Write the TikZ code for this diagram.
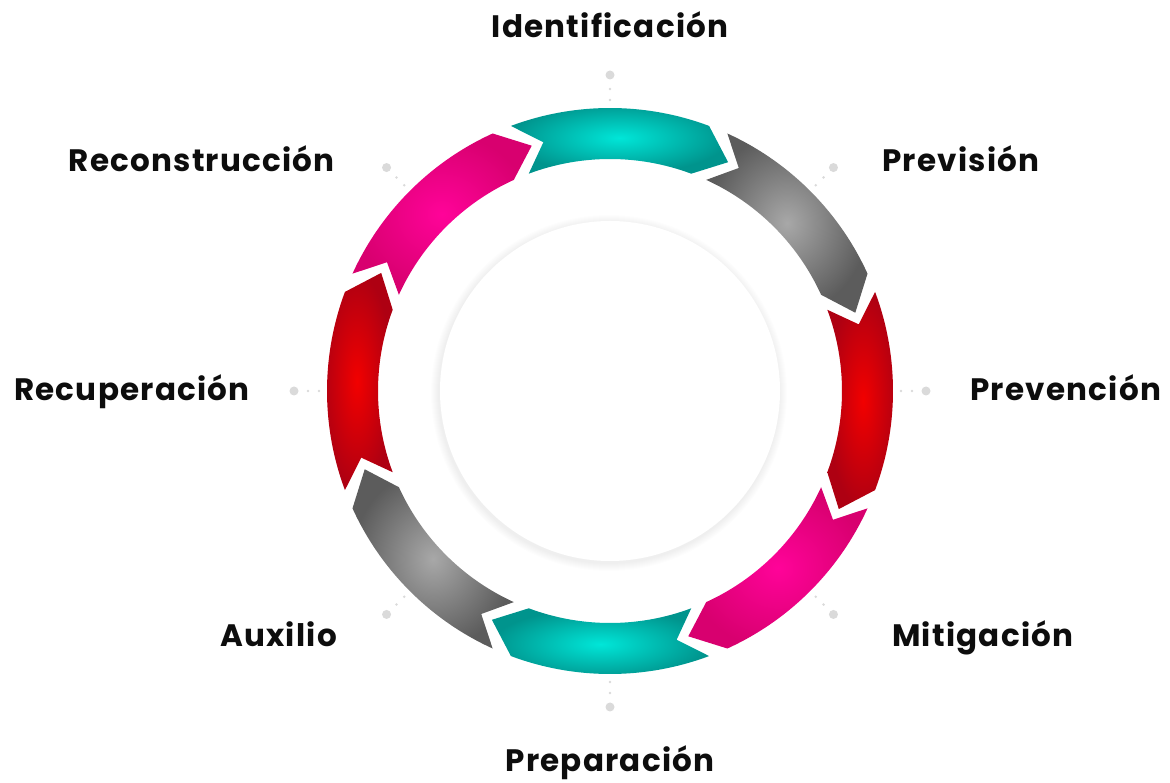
\documentclass[tikz,border=0pt]{standalone}
\usepackage{fontspec}
\setmainfont{Poppins}
\usepackage{tikz}
\usetikzlibrary{calc, positioning}
\definecolor{tealIn}{HTML}{00E6D8}
\definecolor{tealOut}{HTML}{00948D}
\definecolor{grayIn}{HTML}{A8A8A8}
\definecolor{grayOut}{HTML}{5C5C5C}
\definecolor{redIn}{HTML}{F20000}
\definecolor{redOut}{HTML}{AE0012}
\definecolor{pinkIn}{HTML}{FF0399}
\definecolor{pinkOut}{HTML}{D8006F}
\definecolor{dotgray}{HTML}{DADADA}
\tikzset{
    seglabel/.style={font=\bfseries\fontsize{31}{36}\selectfont\addfontfeatures{LetterSpace=4}, inner sep=0pt, text=black!95},
    ringdot/.style={circle, fill=dotgray, inner sep=0pt, minimum size=9pt},
    smalldot/.style={fill=dotgray},
}

\begin{document}
\begin{tikzpicture}[x=1pt, y=1pt]
    \useasboundingbox (0,0) rectangle (1170,782);
    \coordinate (c) at (610,391);
    % soft shadow under the inner disc
    \foreach \k in {0,...,7} {
        \fill[black, opacity=0.008] ($(c)+(-1,-2)$) circle (178-\k);
    }
    \fill[white] (c) circle (170);
    % ring of arrows, running clockwise
    \foreach \ang/\cin/\cout in {90/tealIn/tealOut, 45/grayIn/grayOut, 0/redIn/redOut, -45/pinkIn/pinkOut,
                                 -90/tealIn/tealOut, -135/grayIn/grayOut, 180/redIn/redOut, 135/pinkIn/pinkOut} {
        \pgfmathsetmacro{\ta}{\ang+20.5}
        \pgfmathsetmacro{\hb}{\ang-20.5}
        \shade[inner color=\cin, outer color=\cout]
            ($(c)+(\ta:283)$) arc[start angle=\ta, end angle=\hb, radius=283]
            -- ($(c)+({\hb-6.8}:257.5)$) -- ($(c)+(\hb:232)$)
            arc[start angle=\hb, end angle=\ta, radius=232]
            -- ($(c)+({\ta-5.5}:257.5)$) -- cycle;
    }
    % dots between ring and labels
    \foreach \ang [count=\n] in {90,45,0,-45,-90,-135,180,135} {
        \node[ringdot] (dot\n) at ($(c)+(\ang:316)$) {};
        \fill[smalldot] ($(c)+(\ang:302)$) circle (1.4);
        \fill[smalldot] ($(c)+(\ang:291)$) circle (1.4);
    }
    % labels
    \node[seglabel, anchor=base] (identif) at (610,744) {Identificación};
    \node[seglabel, anchor=base west] (prevision) at (882,610) {Previsión};
    \node[seglabel, anchor=base west] (prevencion) at (970,381) {Prevención};
    \node[seglabel, anchor=base west] (mitig) at (892,135) {Mitigación};
    \node[seglabel, anchor=base] (prepar) at (610,11) {Preparación};
    \node[seglabel, anchor=base east] (auxilio) at (337,135) {Auxilio};
    \node[seglabel, anchor=base east] (recuper) at (250,381) {Recuperación};
    \node[seglabel, anchor=base east] (reconst) at (335,610) {Reconstrucción};
\end{tikzpicture}
\end{document}
